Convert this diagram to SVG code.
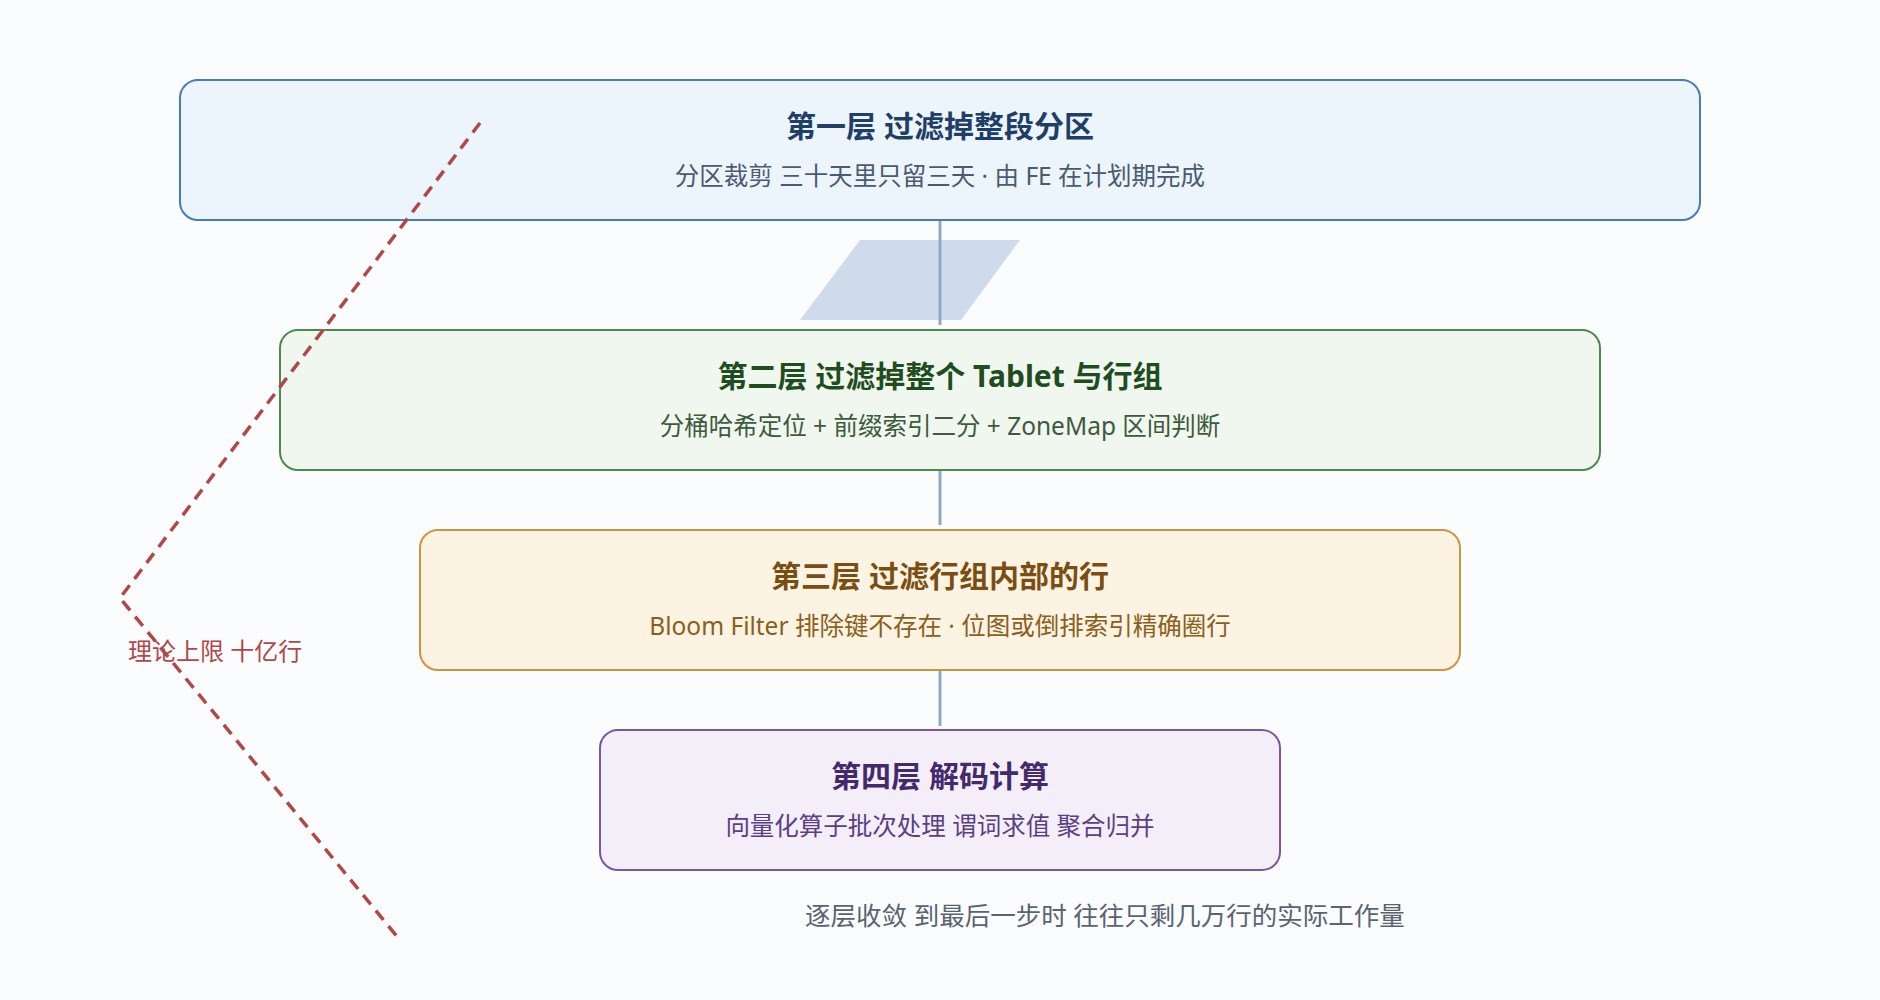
<svg xmlns="http://www.w3.org/2000/svg" width="1880" height="1000" viewBox="0 0 1880 1000">
<style>
text{font-family:"Noto Sans","Noto Sans CJK SC",sans-serif;text-anchor:middle}
.t{font-size:30px;font-weight:700}
.s{font-size:24.5px}
.box{stroke-width:2}
.conn{stroke:#8ea8c6;stroke-width:3;fill:none}
</style>
<rect width="1880" height="1000" fill="#fbfcfe"/>
<polygon points="860,240 1020,240 961,320 800,320" fill="#cfdbeb"/>
<g id="connectors">
<line class="conn" x1="940" y1="220" x2="940" y2="325"/>
<line class="conn" x1="940" y1="470" x2="940" y2="525"/>
<line class="conn" x1="940" y1="670" x2="940" y2="726"/>
</g>
<g id="layer1">
<rect class="box" x="180" y="80" width="1520" height="140" rx="18" fill="#ecf4fc" stroke="#4a7ab8"/>
<text class="t" x="940" y="137" fill="#1f3f66">第一层 过滤掉整段分区</text>
<text class="s" x="940" y="185" fill="#4a5a70">分区裁剪 三十天里只留三天 · 由 FE 在计划期完成</text>
</g>
<g id="layer2">
<rect class="box" x="280" y="330" width="1320" height="140" rx="18" fill="#eff7ee" stroke="#4e8a4e"/>
<text class="t" x="940" y="387" fill="#1f4d1f">第二层 过滤掉整个 Tablet 与行组</text>
<text class="s" x="940" y="435" fill="#3e5a3e">分桶哈希定位 + 前缀索引二分 + ZoneMap 区间判断</text>
</g>
<g id="layer3">
<rect class="box" x="420" y="530" width="1040" height="140" rx="18" fill="#fdf3e2" stroke="#cf9440"/>
<text class="t" x="940" y="587" fill="#7a4e12">第三层 过滤行组内部的行</text>
<text class="s" x="940" y="635" fill="#8a6020">Bloom Filter 排除键不存在 · 位图或倒排索引精确圈行</text>
</g>
<g id="layer4">
<rect class="box" x="600" y="730" width="680" height="140" rx="18" fill="#f4eef9" stroke="#7c56a2"/>
<text class="t" x="940" y="787" fill="#432a6c">第四层 解码计算</text>
<text class="s" x="940" y="835" fill="#5b3f85">向量化算子批次处理 谓词求值 聚合归并</text>
</g>
<g id="funnel-bound">
<polyline points="480,123 120,598 399,939" fill="none" stroke="#b04848" stroke-width="3.5" stroke-dasharray="12,8"/>
<text x="128" y="660" font-size="24" fill="#b04848" style="text-anchor:start">理论上限 十亿行</text>
</g>
<text x="1105" y="925" font-size="25.5" fill="#5a6470">逐层收敛 到最后一步时 往往只剩几万行的实际工作量</text>
</svg>
